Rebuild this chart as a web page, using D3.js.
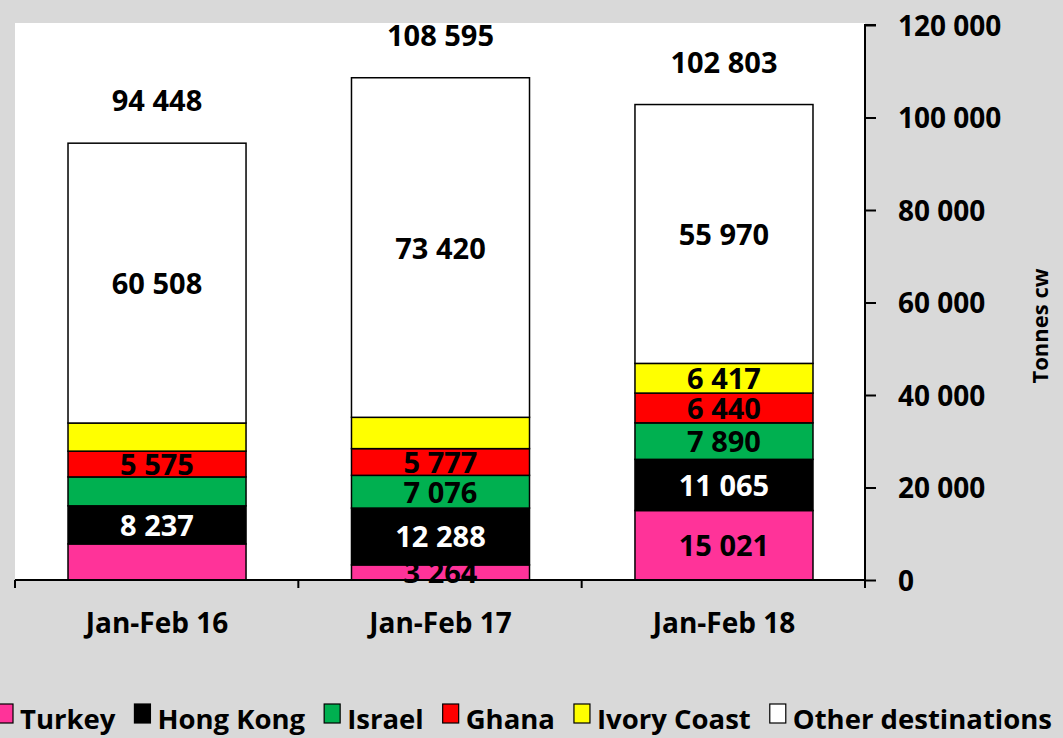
<!DOCTYPE html>
<html>
<head>
<meta charset="utf-8">
<script src="https://cdn.jsdelivr.net/npm/d3@7"></script>
<style>
  html, body { margin: 0; padding: 0; background: #d9d9d9; }
  svg { display: block; font-family: "Open Sans", sans-serif; font-weight: bold; }
</style>
</head>
<body>
<svg></svg>
<script>
const width = 1063,
      height = 738;

// data
const categories = ["Jan-Feb 16", "Jan-Feb 17", "Jan-Feb 18"];
const series_names = ["Turkey", "Hong Kong", "Israel", "Ghana", "Ivory Coast", "Other destinations"];
const turkey = [7800, 3264, 15021];
const hong_kong = [8237, 12288, 11065];
const israel = [6250, 7076, 7890];
const ghana = [5575, 5777, 6440];
const ivory_coast = [6078, 6770, 6417];
const other = [60508, 73420, 55970];
const totals = [94448, 108595, 102803];
// which segment labels are printed on the chart
const shown_labels = [
  [false, true, true],
  [true, true, true],
  [false, true, true],
  [true, true, true],
  [false, false, true],
  [true, true, true]
];
const y_ticks = [0, 20000, 40000, 60000, 80000, 100000, 120000];

const colors = ["#ff3399", "#000000", "#00b050", "#ff0000", "#ffff00", "#ffffff"];
const label_colors = ["#000", "#fff", "#000", "#000", "#000", "#000"];

const series_values = [turkey, hong_kong, israel, ghana, ivory_coast, other];
const table = categories.map((c, i) => {
  const row = { category: c };
  series_names.forEach((s, j) => row[s] = series_values[j][i]);
  return row;
});

const plot = { left: 15, right: 865, top: 23, bottom: 580 };

const svg = d3.select("svg")
  .attr("width", width)
  .attr("height", height)
  .attr("viewBox", [0, 0, width, height]);

const fmt = (v) => d3.format(",")(v).replace(/,/g, " ");

const x_scale = d3.scaleBand()
  .domain(categories)
  .range([plot.left, plot.right + 1])
  .paddingInner(0.372)
  .paddingOuter(0.187);

const y_scale = d3.scaleLinear()
  .domain([0, 120000])
  .range([plot.bottom, 25]);

// plot area
svg.append("rect")
  .attr("x", plot.left)
  .attr("y", plot.top)
  .attr("width", plot.right - plot.left)
  .attr("height", plot.bottom - plot.top)
  .attr("fill", "#fff");

const stacked = d3.stack().keys(series_names)(table);

// Bars
const layers = svg.append("g")
  .selectAll("g")
  .data(stacked)
  .join("g")
  .attr("fill", (d, i) => colors[i]);

layers.selectAll("rect")
  .data((d) => d)
  .join("rect")
  .attr("x", (d) => x_scale(d.data.category))
  .attr("y", (d) => y_scale(d[1]))
  .attr("width", x_scale.bandwidth())
  .attr("height", (d) => y_scale(d[0]) - y_scale(d[1]))
  .attr("stroke", "#000")
  .attr("stroke-width", 1.5);

// Segment labels
stacked.forEach((layer, i) => {
  svg.append("g")
    .selectAll("text")
    .data(layer.filter((d, k) => shown_labels[i][k]))
    .join("text")
    .attr("x", (d) => x_scale(d.data.category) + x_scale.bandwidth() / 2)
    .attr("y", (d) => (y_scale(d[0]) + y_scale(d[1])) / 2 + 11)
    .attr("text-anchor", "middle")
    .attr("fill", label_colors[i])
    .style("font-size", "29px")
    .text((d) => fmt(d.data[layer.key]));
});

// Totals
svg.append("g")
  .selectAll("text")
  .data(categories)
  .join("text")
  .attr("x", (c) => x_scale(c) + x_scale.bandwidth() / 2)
  .attr("y", (c, i) => y_scale(totals[i]) - 32)
  .attr("text-anchor", "middle")
  .attr("fill", "#000")
  .style("font-size", "29px")
  .text((c, i) => fmt(totals[i]));

// Right y axis
const y_axis = d3.axisRight(y_scale)
  .tickValues(y_ticks)
  .tickSize(11)
  .tickSizeOuter(0)
  .tickPadding(22)
  .tickFormat(fmt);

const y_g = svg.append("g")
  .attr("transform", `translate(${plot.right},0)`)
  .call(y_axis);
y_g.select(".domain").attr("stroke", "#000").attr("stroke-width", 2)
  .attr("d", `M11,25H0V${plot.bottom + 8}`);
y_g.selectAll(".tick line").attr("stroke", "#000").attr("stroke-width", 2);
y_g.selectAll(".tick text")
  .attr("fill", "#000")
  .style("font-size", "28px")
  .style("font-family", "'Open Sans', sans-serif")
  .style("font-weight", "bold")
  .attr("dy", "0.36em");

// Bottom x axis
const step = (plot.right - plot.left) / categories.length;
const x_g = svg.append("g");
x_g.append("line")
  .attr("x1", plot.left).attr("x2", plot.right)
  .attr("y1", plot.bottom).attr("y2", plot.bottom)
  .attr("stroke", "#000").attr("stroke-width", 2);
x_g.selectAll(".sep")
  .data(d3.range(categories.length + 1))
  .join("line")
  .attr("x1", (i) => plot.left + i * step)
  .attr("x2", (i) => plot.left + i * step)
  .attr("y1", plot.bottom)
  .attr("y2", plot.bottom + 8)
  .attr("stroke", "#000").attr("stroke-width", 2);
x_g.selectAll("text")
  .data(categories)
  .join("text")
  .attr("x", (c) => x_scale(c) + x_scale.bandwidth() / 2)
  .attr("y", 633)
  .attr("text-anchor", "middle")
  .attr("fill", "#000")
  .style("font-size", "28px")
  .text((c) => c);

// y label
svg.append("text")
  .attr("transform", "translate(1048,326) rotate(-90)")
  .attr("text-anchor", "middle")
  .attr("fill", "#000")
  .style("font-size", "22px")
  .text("Tonnes cw");

// Legend
const legend = svg.append("g");
let lx = -3;
series_names.forEach((name, i) => {
  legend.append("rect")
    .attr("x", lx)
    .attr("y", 704)
    .attr("width", 16)
    .attr("height", 19)
    .attr("fill", colors[i])
    .attr("stroke", "#000")
    .attr("stroke-width", 1.2);
  const t = legend.append("text")
    .attr("x", lx + 23)
    .attr("y", 729)
    .attr("fill", "#000")
    .style("font-size", "27.5px")
    .text(name);
  lx += 23 + t.node().getComputedTextLength() + 19;
});
</script>
</body>
</html>
